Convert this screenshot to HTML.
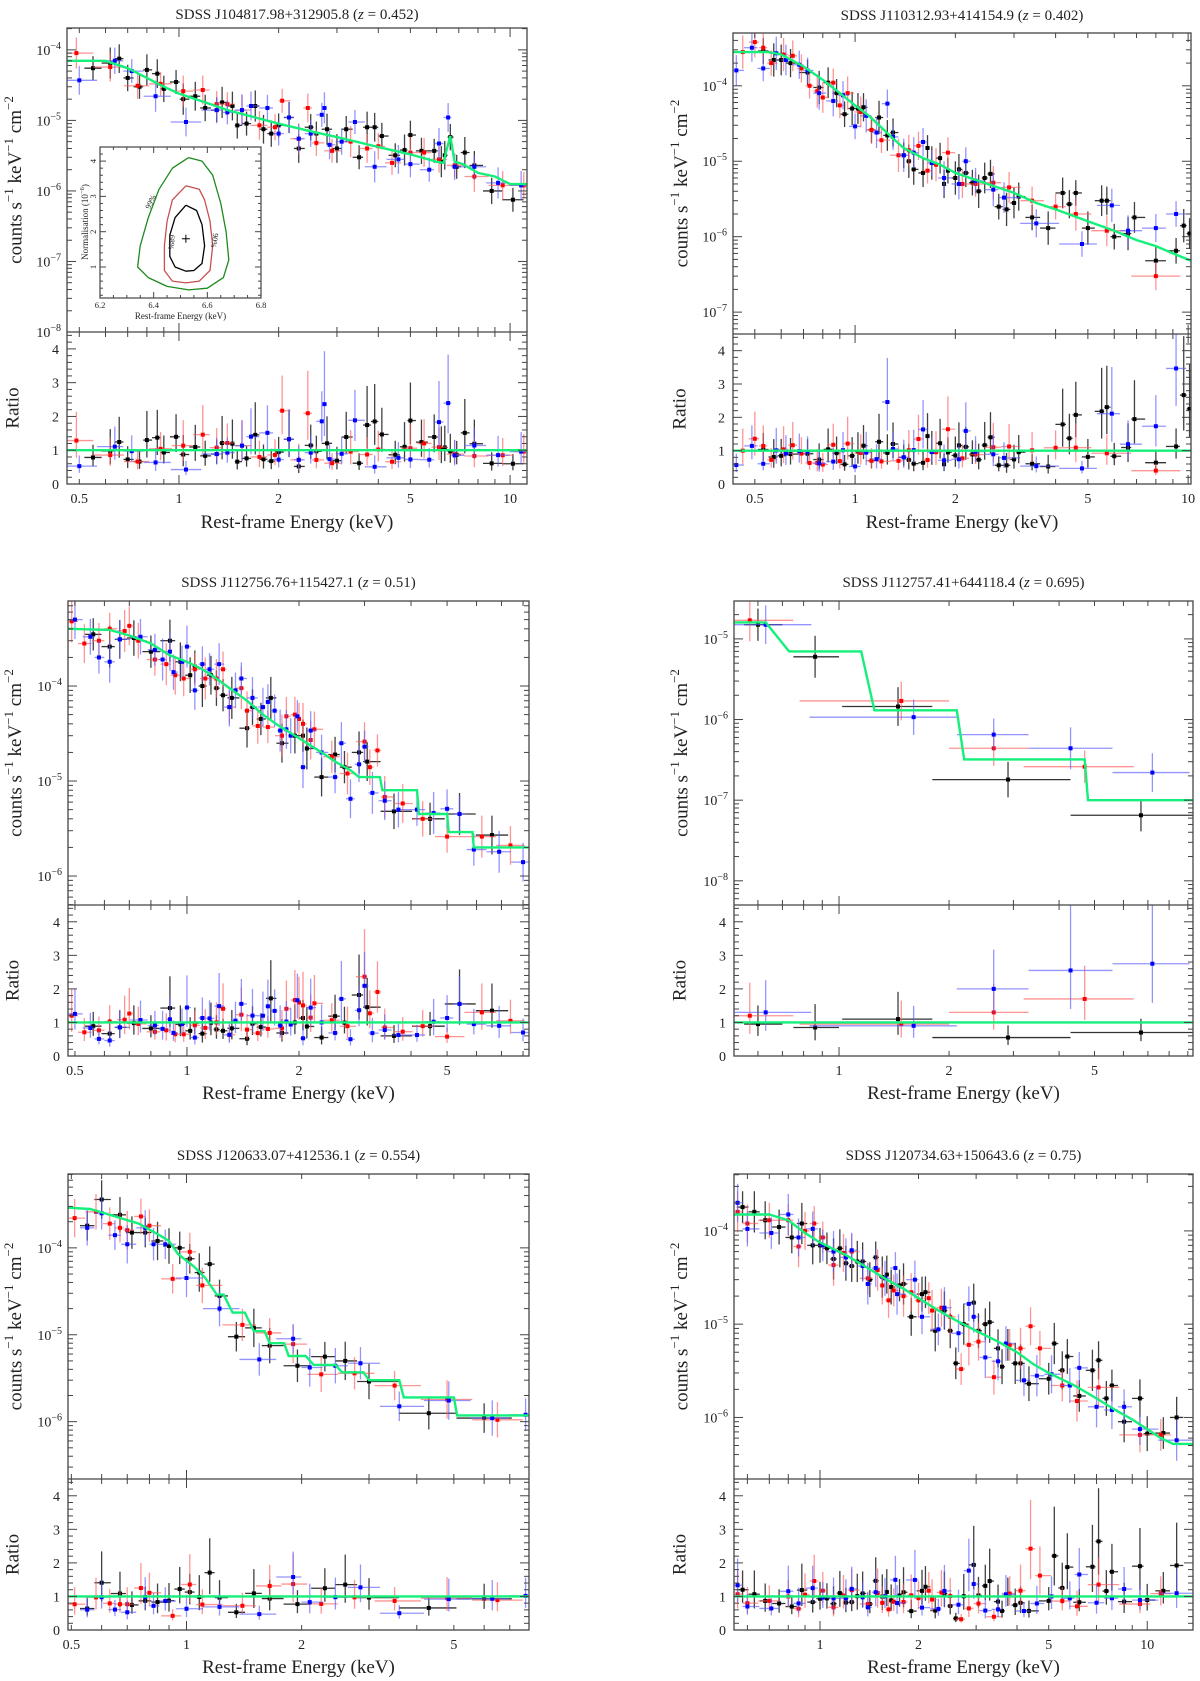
<!DOCTYPE html>
<html><head><meta charset="utf-8"><style>
html,body{margin:0;padding:0;background:#fff}
svg{display:block;font-family:"Liberation Serif",serif}
svg text{font-family:"Liberation Serif",serif;fill:#222}
</style></head><body>
<svg id="fig" width="1200" height="1681" viewBox="0 0 1200 1681" font-family="Liberation Serif, serif" xmlns="http://www.w3.org/2000/svg"></svg>
<script>
// ---------- Panel 1 data ----------
const P1_model_E=[0.459,0.6,0.7,0.8,0.9,1.0,1.2,1.4,1.7,2,2.5,3,4,5,6,6.3,6.4,6.6,6.8,7.2,8,9,10,11.25];
const P1_model_F=[7e-5,7e-5,5.5e-5,4e-5,3e-5,2.4e-5,1.8e-5,1.4e-5,1.1e-5,9e-6,7e-6,5.8e-6,4.2e-6,3.3e-6,2.6e-6,2.5e-6,3.5e-6,6e-6,2.6e-6,2.4e-6,1.8e-6,1.6e-6,1.25e-6,1.25e-6];
const P1_black_E=[0.55,0.62,0.66,0.7,0.76,0.8,0.86,0.9,0.98,1.03,1.12,1.2,1.3,1.35,1.45,1.5,1.6,1.7,1.8,1.9,2.0,2.15,2.3,2.5,2.6,2.8,3.0,3.2,3.5,3.7,3.9,4.1,4.5,4.8,5.0,5.4,5.9,6.2,6.35,6.6,6.9,7.3,7.8,8.8,10.2];
const P1_black_F=[5.5e-5,6.5e-5,7.5e-5,4e-5,3e-5,5.2e-5,4.6e-5,2.8e-5,3.5e-5,2e-5,2.2e-5,1.5e-5,1.4e-5,1.8e-5,1.6e-5,8.5e-6,9e-6,1.6e-5,7.5e-6,6.5e-6,8.5e-6,1.1e-5,4e-6,8e-6,6.5e-6,7.5e-6,4e-6,7.5e-6,3e-6,8e-6,8e-6,6e-6,3.2e-6,3.8e-6,6.2e-6,3.7e-6,3.7e-6,2.6e-6,3.2e-6,5.8e-6,2.2e-6,3.5e-6,2.3e-6,1e-6,7.5e-7];
const P1_red_E=[0.49,0.62,0.75,0.88,1.03,1.18,1.3,1.4,1.55,1.75,1.95,2.05,2.3,2.45,2.6,2.9,3.3,3.7,4.0,4.4,5.0,5.5,6.1,6.8,7.8,9.5,11];
const P1_red_F=[9e-5,5.7e-5,3.1e-5,3.3e-5,2.6e-5,2.7e-5,1.7e-5,1.7e-5,1.4e-5,8.5e-6,8e-6,1.9e-5,5.5e-6,1.5e-5,4.8e-6,3.7e-6,5e-6,4e-6,4.3e-6,2.5e-6,3.5e-6,3.5e-6,2.8e-6,2.3e-6,1.6e-6,1.2e-6,1.2e-6];
const P1_blue_E=[0.5,0.64,0.72,0.85,1.05,1.3,1.4,1.55,1.65,1.85,2.0,2.15,2.3,2.5,2.7,2.75,2.85,3.1,3.4,3.9,4.6,5.0,5.7,6.1,6.5,6.8,7.8,9.2,10.8];
const P1_blue_F=[3.7e-5,7e-5,5e-5,2.2e-5,9.5e-6,1.4e-5,1.3e-5,1.4e-5,1.6e-5,1.5e-5,6.5e-6,1.1e-5,5.5e-6,6.5e-6,1.2e-5,1.5e-5,4.5e-6,5e-6,9.5e-6,2.2e-6,2.8e-6,2.4e-6,2e-6,4.7e-6,1.1e-5,2.2e-6,2.2e-6,1.3e-6,1.2e-6];
// inset contours (energy keV, normalisation 1e-6)
const INSET_c99_E=[6.53,6.58,6.62,6.65,6.67,6.68,6.66,6.6,6.53,6.45,6.38,6.34,6.35,6.38,6.42,6.47,6.53];
const INSET_c99_N=[4.1,4.0,3.6,2.8,2.0,1.2,0.7,0.4,0.35,0.45,0.7,1.0,1.6,2.4,3.2,3.8,4.1];
const INSET_c90_E=[6.52,6.57,6.59,6.61,6.62,6.61,6.57,6.52,6.47,6.44,6.44,6.45,6.47,6.52];
const INSET_c90_N=[3.3,3.2,2.9,2.3,1.6,0.9,0.6,0.55,0.6,0.9,1.6,2.3,2.9,3.3];
const INSET_c68_E=[6.52,6.56,6.58,6.59,6.58,6.55,6.52,6.48,6.46,6.46,6.48,6.52];
const INSET_c68_N=[2.75,2.6,2.2,1.6,1.1,0.9,0.88,1.0,1.3,1.9,2.4,2.75];
const INSET_best=[6.52,1.8];
// ---------- Panel 2 data ----------
const P2_model_E=[0.43,0.55,0.6,0.7,0.8,0.9,1.0,1.1,1.2,1.3,1.4,1.6,1.8,2,2.5,3,3.5,4,5,6,7,8,9,10.2];
const P2_model_F=[2.8e-4,2.8e-4,2.6e-4,1.8e-4,1.2e-4,8e-5,5.5e-5,4e-5,2.8e-5,2e-5,1.5e-5,1.1e-5,9e-6,7e-6,5e-6,3.8e-6,2.8e-6,2.3e-6,1.6e-6,1.2e-6,9e-7,7.5e-7,6e-7,4.8e-7];
const P2_black_E=[0.53,0.57,0.6,0.64,0.72,0.78,0.83,0.88,0.93,0.98,1.02,1.06,1.12,1.18,1.25,1.3,1.4,1.45,1.5,1.6,1.65,1.7,1.8,1.85,1.9,2.0,2.05,2.15,2.25,2.35,2.45,2.55,2.7,2.85,3.0,3.1,3.4,3.8,4.2,4.4,4.6,5.0,5.5,5.7,6.0,6.6,6.9,8.0,9.2,9.7,10.1];
const P2_black_F=[2.9e-4,2.2e-4,2.2e-4,2e-4,1.5e-4,9.5e-5,1.1e-4,8e-5,4.2e-5,5e-5,5e-5,5.2e-5,2.6e-5,3.8e-5,2.2e-5,2.4e-5,1.2e-5,1e-5,7.8e-6,7e-6,1.5e-5,9.5e-6,1.1e-5,5e-6,7.5e-6,6e-6,7.8e-6,7e-6,5.2e-6,4e-6,6e-6,6.8e-6,2.5e-6,2.3e-6,2.8e-6,3.4e-6,1.8e-6,1.3e-6,3.8e-6,2.7e-6,3.8e-6,1.3e-6,3e-6,3e-6,1e-6,1.1e-6,1.8e-6,4.8e-7,6.5e-7,1.4e-6,1.1e-6];
const P2_red_E=[0.46,0.5,0.53,0.56,0.61,0.65,0.69,0.73,0.77,0.8,0.86,0.9,0.95,1.04,1.12,1.2,1.35,1.45,1.55,1.65,1.75,1.9,2.1,2.3,2.6,2.9,3.4,4.0,4.6,5.7,8.0];
const P2_red_F=[2.8e-4,3.8e-4,3.2e-4,2e-4,2.6e-4,2.5e-4,1.7e-4,1e-4,8.5e-5,7e-5,1.1e-4,5.5e-5,8e-5,4.5e-5,2.6e-5,1.9e-5,1.2e-5,1.4e-5,1.6e-5,7.5e-6,9e-6,1.3e-5,5e-6,5e-6,5.2e-6,4.5e-6,3e-6,2.5e-6,2e-6,1.2e-6,3e-7];
const P2_blue_E=[0.44,0.49,0.53,0.58,0.62,0.68,0.72,0.78,0.86,0.92,1.0,1.08,1.16,1.25,1.3,1.4,1.5,1.6,1.7,1.85,2.05,2.15,2.3,2.6,2.8,3.5,4.8,5.9,6.6,8.0,9.2];
const P2_blue_F=[1.6e-4,3.2e-4,1.7e-4,2.7e-4,2.2e-4,1.9e-4,1.6e-4,8e-5,6.3e-5,7.5e-5,2.9e-5,4e-5,2.4e-5,5.8e-5,2.1e-5,1.2e-5,1.3e-5,1.8e-5,9.5e-6,6e-6,5e-6,1e-5,5.5e-6,4.2e-6,3.3e-6,1.5e-6,8e-7,2.6e-6,1.2e-6,1.3e-6,2e-6];
// ---------- Panel 3 data ----------
const P3_model_E=[0.479,0.62,0.7,0.8,0.9,1.0,1.1,1.2,1.3,1.45,1.6,1.75,1.9,2.1,2.3,2.5,2.75,2.9,3.3,3.35,4.15,4.2,5.0,5.05,5.85,5.9,8.3];
const P3_model_F=[4e-4,3.9e-4,3.4e-4,2.8e-4,2.1e-4,1.8e-4,1.5e-4,1.2e-4,9.5e-5,7e-5,5e-5,3.9e-5,3.2e-5,2.5e-5,2e-5,1.6e-5,1.3e-5,1.1e-5,1.1e-5,8e-6,8e-6,4.5e-6,4.5e-6,2.9e-6,2.9e-6,2e-6,2e-6];
const P3_black_E=[0.56,0.62,0.66,0.72,0.8,0.9,0.96,1.02,1.05,1.1,1.16,1.2,1.25,1.32,1.45,1.5,1.58,1.68,1.8,1.95,2.05,2.1,2.3,2.5,2.65,2.9,3.05,3.6,4.5,5.4,6.6];
const P3_black_F=[3.5e-4,2.6e-4,3.1e-4,3.2e-4,2.3e-4,3e-4,1.8e-4,1.3e-4,1.6e-4,1e-4,1.3e-4,9.5e-5,8e-5,7.5e-5,3.6e-5,6e-5,4.5e-5,7.5e-5,2.5e-5,3e-5,3e-5,2.2e-5,1.1e-5,1.9e-5,1.4e-5,2e-5,1.6e-5,4.8e-6,4e-6,4.5e-6,2.7e-6];
const P3_red_E=[0.49,0.53,0.58,0.62,0.68,0.7,0.74,0.82,0.88,0.93,0.98,1.05,1.12,1.2,1.25,1.3,1.4,1.45,1.55,1.65,1.8,1.85,1.95,2.0,2.05,2.15,2.2,2.45,2.7,3.0,3.1,3.25,3.4,3.8,4.3,5.0,6.2,7.4];
const P3_red_F=[4.8e-4,2.8e-4,3e-4,4e-4,3.8e-4,4.3e-4,3e-4,1.9e-4,1.7e-4,1.3e-4,1.2e-4,1.5e-4,1.2e-4,1.2e-4,1.5e-4,6e-5,9.5e-5,5.5e-5,3.8e-5,3.7e-5,3e-5,4.8e-5,5e-5,4.5e-5,4e-5,2.7e-5,3.5e-5,1.8e-5,1.2e-5,2.6e-5,1.4e-5,2.1e-5,6.8e-6,5.8e-6,4e-6,2.6e-6,2.6e-6,2.1e-6];
const P3_blue_E=[0.5,0.55,0.58,0.62,0.66,0.75,0.82,0.86,0.9,0.92,0.97,1.0,1.05,1.1,1.15,1.22,1.3,1.35,1.4,1.5,1.6,1.65,1.72,1.78,1.85,1.9,1.98,2.05,2.15,2.3,2.5,2.6,2.75,2.9,3.0,3.15,3.4,3.7,4.15,4.6,5.0,5.4,5.9,6.9,8.0];
const P3_blue_F=[5e-4,3.3e-4,2e-4,1.8e-4,3.1e-4,3.3e-4,2.4e-4,1.9e-4,2.3e-4,1.4e-4,1.8e-4,2.6e-4,9e-5,1.7e-4,1.5e-4,1.7e-4,6e-5,9e-5,1.2e-4,7.5e-5,6e-5,6.8e-5,5.5e-5,3.4e-5,3.5e-5,3e-5,4.8e-5,1.4e-5,3.4e-5,2e-5,1.1e-5,2.5e-5,6.5e-6,1.5e-5,2.3e-5,7.5e-6,6.2e-6,5e-6,5e-6,4.6e-6,5.1e-6,4.5e-6,1.9e-6,1.8e-6,1.4e-6];
// ---------- Panel 4 data ----------
const P4_model_E=[0.516,0.63,0.73,1.15,1.25,2.1,2.2,4.7,4.8,9.3];
const P4_model_F=[1.6e-5,1.6e-5,7e-6,7e-6,1.3e-6,1.3e-6,3.2e-7,3.2e-7,1e-7,1e-7];
const P4_black_E=[0.6,0.86,1.45,2.9,6.7];
const P4_black_lo=[0.55,0.75,1.02,1.8,4.3];
const P4_black_hi=[0.7,1.0,1.8,4.3,9.3];
const P4_black_F=[1.5e-5,6e-6,1.45e-6,1.8e-7,6.5e-8];
const P4_black_R=[0.95,0.85,1.1,0.55,0.7];
const P4_red_E=[0.57,1.48,2.65,4.7];
const P4_red_lo=[0.516,0.78,2.0,3.2];
const P4_red_hi=[0.75,2.0,3.3,6.4];
const P4_red_F=[1.7e-5,1.7e-6,4.4e-7,2.6e-7];
const P4_red_R=[1.2,0.95,1.3,1.7];
const P4_blue_E=[0.63,1.6,2.65,4.3,7.2];
const P4_blue_lo=[0.516,0.83,2.1,3.3,5.6];
const P4_blue_hi=[0.84,2.1,3.3,5.6,9.1];
const P4_blue_F=[1.5e-5,1.07e-6,6.5e-7,4.4e-7,2.2e-7];
const P4_blue_R=[1.3,0.9,2.0,2.55,2.75];
// ---------- Panel 5 data ----------
const P5_model_E=[0.49,0.56,0.65,0.75,0.85,0.9,0.95,1.05,1.12,1.2,1.25,1.32,1.42,1.5,1.6,1.65,1.8,1.85,2.05,2.15,2.45,2.55,2.9,3.0,3.6,3.7,5.0,5.1,7.86];
const P5_model_F=[2.9e-4,2.8e-4,2.3e-4,1.9e-4,1.4e-4,1.2e-4,8.5e-5,6e-5,4.5e-5,2.9e-5,2.9e-5,1.8e-5,1.8e-5,1.1e-5,1.1e-5,8e-6,8e-6,5.7e-6,5.7e-6,4.5e-6,4.5e-6,3.7e-6,3.7e-6,3e-6,3e-6,1.9e-6,1.9e-6,1.18e-6,1.18e-6];
const P5_black_E=[0.55,0.6,0.67,0.72,0.78,0.84,0.9,0.96,1.02,1.08,1.15,1.22,1.35,1.5,1.65,1.95,2.3,2.6,3.0,4.3,6.0];
const P5_black_F=[1.8e-4,3.6e-4,2.4e-4,1.5e-4,1.5e-4,1.2e-4,1.05e-4,1e-4,7.5e-5,5.2e-5,6.5e-5,2.8e-5,9.5e-6,1.2e-5,7.5e-6,4.4e-6,5.6e-6,5e-6,2.9e-6,1.25e-6,1.1e-6];
const P5_red_E=[0.51,0.58,0.63,0.67,0.7,0.76,0.8,0.92,1.02,1.1,1.4,1.65,1.9,2.25,2.75,3.5,4.8,6.5];
const P5_red_F=[2.2e-4,2.6e-4,1.9e-4,1.7e-4,1.6e-4,2.3e-4,1.8e-4,4.4e-5,9e-5,3.7e-5,1.3e-5,1.05e-5,7.8e-6,3.5e-6,3.6e-6,2.6e-6,1.8e-6,1.05e-6];
const P5_blue_E=[0.55,0.6,0.65,0.7,0.78,0.82,0.88,1.0,1.22,1.55,1.9,2.1,2.45,2.85,3.6,4.85,6.3,7.7];
const P5_blue_F=[1.7e-4,2.5e-4,1.4e-4,1.1e-4,1.7e-4,1.1e-4,1.1e-4,4.5e-5,2e-5,5.2e-6,9e-6,4.2e-6,4.4e-6,4.7e-6,1.5e-6,1.75e-6,1.1e-6,1.2e-6];
// ---------- Panel 6 data ----------
const P6_model_E=[0.546,0.7,0.8,0.9,1.0,1.2,1.4,1.6,1.8,2.0,2.3,2.6,3.0,3.5,4,4.5,5,6,7,8,9,10,11,12,13.8];
const P6_model_F=[1.5e-4,1.5e-4,1.3e-4,9.5e-5,7.5e-5,5.5e-5,4e-5,3e-5,2.4e-5,1.9e-5,1.4e-5,1.1e-5,8.5e-6,6.5e-6,5e-6,3.7e-6,3e-6,2.2e-6,1.6e-6,1.2e-6,9.5e-7,7.5e-7,6e-7,5.2e-7,5.2e-7];
const P6_black_E=[0.58,0.63,0.68,0.75,0.82,0.88,0.95,1.0,1.05,1.1,1.15,1.2,1.25,1.3,1.35,1.42,1.48,1.55,1.6,1.65,1.75,1.8,1.9,2.05,2.1,2.25,2.4,2.5,2.6,2.75,2.95,3.05,3.2,3.3,3.5,3.6,3.75,3.95,4.1,4.35,5.0,5.2,5.5,5.7,6.2,6.8,7.1,7.5,7.8,8.5,9.5,10,11.2,12.3];
const P6_black_F=[1.8e-4,1.6e-4,1.3e-4,1.1e-4,8.5e-5,1.2e-4,7e-5,7e-5,6.5e-5,5e-5,6.5e-5,4.5e-5,4.2e-5,4.7e-5,4.7e-5,3e-5,5.2e-5,3.2e-5,3.4e-5,2.5e-5,2.6e-5,2.7e-5,1.2e-5,2.1e-5,2.2e-5,8.5e-6,1.4e-5,8.5e-6,3.8e-6,1e-5,1.7e-5,8.5e-6,1e-5,1.05e-5,5.5e-6,3.5e-6,6e-6,3.8e-6,3.8e-6,2.3e-6,2.6e-6,6.2e-6,3.2e-6,4.5e-6,1.7e-6,3.2e-6,4.1e-6,1.6e-6,2.2e-6,9e-7,1.6e-6,6.7e-7,6.8e-7,1e-6];
const P6_red_E=[0.56,0.6,0.7,0.8,0.86,0.9,0.96,1.02,1.1,1.18,1.25,1.4,1.5,1.55,1.62,1.68,1.8,1.9,2.0,2.15,2.2,2.35,2.5,2.7,2.85,3.05,3.4,3.8,4.1,4.4,4.7,5.5,6.1,7.1,9.5,11];
const P6_red_F=[1.6e-4,1.2e-4,1.3e-4,1.3e-4,6.8e-5,1e-4,1.2e-4,8.5e-5,4.3e-5,5.8e-5,6e-5,3.1e-5,3.8e-5,2.6e-5,1.8e-5,2.3e-5,2e-5,2.2e-5,1.8e-5,1.9e-5,1.4e-5,1.5e-5,1.2e-5,3.3e-6,6e-6,6.5e-6,2.7e-6,6e-6,5.5e-6,9.5e-6,5.5e-6,2.2e-6,1.5e-6,2.1e-6,6.5e-7,6.5e-7];
const P6_blue_E=[0.56,0.6,0.71,0.8,0.86,0.95,1.02,1.1,1.2,1.25,1.35,1.4,1.48,1.58,1.7,1.72,1.95,2.05,2.3,2.4,2.65,2.85,2.95,3.2,3.5,3.7,4.2,4.6,5.1,5.8,6.2,7.0,7.8,8.5,9.5,12.3];
const P6_blue_F=[2e-4,1.05e-4,9.5e-5,1.5e-4,8.5e-5,1.05e-4,7e-5,6e-5,5.2e-5,6.2e-5,4.2e-5,2.7e-5,4e-5,3.1e-5,4e-5,2.1e-5,3e-5,1.2e-5,8.8e-6,1.5e-5,8e-6,1.65e-5,1.2e-5,4.4e-6,4e-6,6.2e-6,2.5e-6,2.8e-6,2.9e-6,2.2e-6,3.4e-6,1.3e-6,1.2e-6,1.3e-6,7.5e-7,5.7e-7];

const XTICKS_A=[0.5,1,2,5,10];
const XTICKS_B=[0.5,1,2,5];
const XTICKS_C=[1,2,5];
const XTICKS_D=[1,2,5,10];
const RATIO_TICKS=[0,1,2,3,4];

const NS='http://www.w3.org/2000/svg';
const svg=document.getElementById('fig');
function mk(tag,attrs,parent){const e=document.createElementNS(NS,tag);for(const k in attrs)e.setAttribute(k,attrs[k]);if(tag==='text')e.setAttribute('font-family','Liberation Serif, serif');(parent||svg).appendChild(e);return e;}

const panels=[
 {id:'p1',title:['SDSS J104817.98+312905.8 (',' = 0.452)'],x0:67,x1:527,y0:28,yd:332,yb:484,xr:[0.459,11.25],yr:[-8,-3.69],yt:[-4,-5,-6,-7,-8],xt:XTICKS_A,ty:14,lx:522,ylx:17,rlx:14,
  m:[P1_model_E,P1_model_F],s:[[P1_black_E,P1_black_F,'#000','#000'],[P1_red_E,P1_red_F,'#f00','#ff5a5a'],[P1_blue_E,P1_blue_F,'#00f','#5a5aff']]},
 {id:'p2',title:['SDSS J110312.93+414154.9 (',' = 0.402)'],x0:733,x1:1191,y0:33,yd:334,yb:484,xr:[0.43,10.2],yr:[-7.29,-3.30],yt:[-4,-5,-6,-7],xt:XTICKS_A,ty:15,lx:522,ylx:683,rlx:681,
  m:[P2_model_E,P2_model_F],s:[[P2_black_E,P2_black_F,'#000','#000'],[P2_red_E,P2_red_F,'#f00','#ff5a5a'],[P2_blue_E,P2_blue_F,'#00f','#5a5aff']]},
 {id:'p3',title:['SDSS J112756.76+115427.1 (',' = 0.51)'],x0:68,x1:529,y0:601,yd:905,yb:1056,xr:[0.479,8.3],yr:[-6.305,-3.105],yt:[-4,-5,-6],xt:XTICKS_B,ty:582,lx:1093,ylx:17,rlx:14,
  m:[P3_model_E,P3_model_F],s:[[P3_black_E,P3_black_F,'#000','#000'],[P3_red_E,P3_red_F,'#f00','#ff5a5a'],[P3_blue_E,P3_blue_F,'#00f','#5a5aff']]},
 {id:'p4',title:['SDSS J112757.41+644118.4 (',' = 0.695)'],x0:734,x1:1193,y0:601,yd:905,yb:1056,xr:[0.516,9.3],yr:[-8.3,-4.53],yt:[-5,-6,-7,-8],xt:XTICKS_C,ty:582,lx:1093,ylx:683,rlx:681,
  m:[P4_model_E,P4_model_F],s:[[P4_black_E,P4_black_F,'#000','#000',P4_black_lo,P4_black_hi,P4_black_R],[P4_red_E,P4_red_F,'#f00','#ff5a5a',P4_red_lo,P4_red_hi,P4_red_R],[P4_blue_E,P4_blue_F,'#00f','#5a5aff',P4_blue_lo,P4_blue_hi,P4_blue_R]],err:0.2},
 {id:'p5',title:['SDSS J120633.07+412536.1 (',' = 0.554)'],x0:68,x1:529,y0:1174,yd:1479,yb:1630,xr:[0.49,7.86],yr:[-6.66,-3.15],yt:[-4,-5,-6],xt:XTICKS_B,ty:1155,lx:1667,ylx:17,rlx:14,
  m:[P5_model_E,P5_model_F],s:[[P5_black_E,P5_black_F,'#000','#000'],[P5_red_E,P5_red_F,'#f00','#ff5a5a'],[P5_blue_E,P5_blue_F,'#00f','#5a5aff']]},
 {id:'p6',title:['SDSS J120734.63+150643.6 (',' = 0.75)'],x0:734,x1:1193,y0:1174,yd:1479,yb:1630,xr:[0.546,13.8],yr:[-6.66,-3.39],yt:[-4,-5,-6],xt:XTICKS_D,ty:1155,lx:1667,ylx:683,rlx:681,
  m:[P6_model_E,P6_model_F],s:[[P6_black_E,P6_black_F,'#000','#000'],[P6_red_E,P6_red_F,'#f00','#ff5a5a'],[P6_blue_E,P6_blue_F,'#00f','#5a5aff']]}
];
const L=Math.log10;
function interpModel(E,F,e){
  if(e<=E[0])return F[0];if(e>=E[E.length-1])return F[F.length-1];
  for(let i=0;i<E.length-1;i++){if(e>=E[i]&&e<=E[i+1]){if(E[i+1]===E[i])return F[i];const t=(L(e)-L(E[i]))/(L(E[i+1])-L(E[i]));return Math.pow(10,L(F[i])+t*(L(F[i+1])-L(F[i])));}}
  return F[F.length-1];
}
const colNames=['black','red','blue'];
panels.forEach((p,pi)=>{
  const g=mk('g',{});
  
  
  const X=e=>p.x0+(L(e)-L(p.xr[0]))/(L(p.xr[1])-L(p.xr[0]))*(p.x1-p.x0);
  const Y=v=>p.yd-(L(v)-p.yr[0])/(p.yr[1]-p.yr[0])*(p.yd-p.y0);
  const YR=r=>p.yb-Math.min(r,4.55)/4.5*(p.yb-p.yd);
  const clipT='clipT'+pi,clipR='clipR'+pi;
  const defs=mk('defs',{},g);
  const c1=mk('clipPath',{id:clipT},defs);mk('rect',{x:p.x0,y:p.y0,width:p.x1-p.x0,height:p.yd-p.y0},c1);
  const c2=mk('clipPath',{id:clipR},defs);mk('rect',{x:p.x0,y:p.yd,width:p.x1-p.x0,height:p.yb-p.yd},c2);
  const t=mk('text',{x:(p.x0+p.x1)/2,y:p.ty+5,'text-anchor':'middle','font-size':15},g);
  
  
  t.appendChild(document.createTextNode(p.title[0]));
  const zi=mk('tspan',{'font-style':'italic'},t);zi.textContent='z';
  t.appendChild(document.createTextNode(p.title[1]));
  const gT=mk('g',{'clip-path':'url(#'+clipT+')'},g);
  const gR=mk('g',{'clip-path':'url(#'+clipR+')'},g);
  const d=p.err||0.17;
  p.s.forEach((s,si)=>{
    const [E,F,col,ecol,lo,hi,R]=s;
    const sg=mk('g',{},gT);
    
    
    const rg=mk('g',{},gR);
    
    
    E.forEach((e,i)=>{
      const elo=lo?lo[i]:(i>0?Math.sqrt(E[i-1]*e):e*e/Math.sqrt(e*E[i+1]));
      const ehi=hi?hi[i]:(i<E.length-1?Math.sqrt(E[i+1]*e):e*e/Math.sqrt(e*E[i-1]));
      const f=F[i];const dd=d*(1+0.3*((i*7+si*3)%4)/3);
      const x=X(e),y=Y(f);
      mk('line',{x1:X(elo),x2:X(ehi),y1:y,y2:y,stroke:ecol,'stroke-width':1.3,'stroke-opacity':si?0.65:0.8},sg);
      mk('line',{x1:x,x2:x,y1:Y(f*Math.pow(10,dd)),y2:Y(f/Math.pow(10,dd)),stroke:ecol,'stroke-width':1.3,'stroke-opacity':si?0.65:0.75},sg);
      const pt=mk('rect',{x:x-2,y:y-2,width:4,height:4,fill:col},sg);
      
      
      const r=R?R[i]:f/interpModel(p.m[0],p.m[1],e);
      const yr=YR(r);
      mk('line',{x1:X(elo),x2:X(ehi),y1:yr,y2:yr,stroke:ecol,'stroke-width':1.3,'stroke-opacity':si?0.65:0.8},rg);
      mk('line',{x1:x,x2:x,y1:YR(r*Math.pow(10,dd)),y2:YR(r/Math.pow(10,dd)),stroke:ecol,'stroke-width':1.3,'stroke-opacity':si?0.65:0.75},rg);
      const rp=mk('rect',{x:x-2,y:yr-2,width:4,height:4,fill:col},rg);
      
      
    });
  });
  const pts=p.m[0].map((e,i)=>X(e).toFixed(1)+','+Y(p.m[1][i]).toFixed(1)).join(' ');
  const ml=mk('polyline',{points:pts,fill:'none',stroke:'#14f07a','stroke-width':2.4},gT);
  
  
  const rl=mk('line',{x1:p.x0,x2:p.x1,y1:YR(1),y2:YR(1),stroke:'#14f07a','stroke-width':2.4},gR);
  
  
  const fr=mk('rect',{x:p.x0,y:p.y0,width:p.x1-p.x0,height:p.yb-p.y0,fill:'none',stroke:'#444','stroke-width':1.3},g);
  
  
  mk('line',{x1:p.x0,x2:p.x1,y1:p.yd,y2:p.yd,stroke:'#444','stroke-width':1.3},g);
  const ax=mk('g',{stroke:'#444','stroke-width':1},g);
  
  
  for(let dec=-1;dec<=1;dec++){for(let m=1;m<10;m++){const e=m*Math.pow(10,dec);if(e<p.xr[0]||e>p.xr[1])continue;const x=X(e);const big=(m===1);const len=big?9:5;
    [p.y0,p.yd,p.yb].forEach((yy,k)=>{
      if(k===0)mk('line',{x1:x,x2:x,y1:yy,y2:yy+len},ax);
      else if(k===1){mk('line',{x1:x,x2:x,y1:yy-len,y2:yy+len},ax);}
      else mk('line',{x1:x,x2:x,y1:yy,y2:yy-len},ax);
    });}}
  p.xt.forEach(v=>{const tl=mk('text',{x:X(v),y:p.yb+19,'text-anchor':'middle','font-size':14},g);tl.textContent=String(v);
    
    });
  const ay=mk('g',{stroke:'#444','stroke-width':1},g);
  
  
  for(let dec=-9;dec<=-3;dec++){for(let m=1;m<10;m++){const lv=dec+L(m);if(lv<p.yr[0]||lv>p.yr[1])continue;const y=Y(Math.pow(10,lv));const len=m===1?9:5;
    mk('line',{x1:p.x0,x2:p.x0+len,y1:y,y2:y},ay);mk('line',{x1:p.x1,x2:p.x1-len,y1:y,y2:y},ay);}}
  p.yt.forEach(ex=>{const y=Y(Math.pow(10,ex));const tl=mk('text',{x:p.x0-6,y:y+5,'text-anchor':'end','font-size':14},g);
    
    
    tl.appendChild(document.createTextNode('10'));const sp=mk('tspan',{dy:-6,'font-size':10},tl);sp.textContent='\u2212'+(-ex);});
  for(let r=0;r<=4.5001;r+=0.2){const y=YR(r);const major=Math.abs(r-Math.round(r))<1e-6;const len=major?9:5;
    mk('line',{x1:p.x0,x2:p.x0+len,y1:y,y2:y},ay);mk('line',{x1:p.x1,x2:p.x1-len,y1:y,y2:y},ay);}
  RATIO_TICKS.forEach(r=>{const tl=mk('text',{x:p.x0-8,y:YR(r)+5,'text-anchor':'end','font-size':14},g);tl.textContent=String(r);
    
    });
  const xl=mk('text',{x:(p.x0+p.x1)/2,y:p.lx+6,'text-anchor':'middle','font-size':19},g);xl.textContent='Rest-frame Energy (keV)';
  
  
  const cy=(p.y0+p.yd)/2;
  const yl=mk('text',{x:p.ylx,y:cy,'text-anchor':'middle','font-size':19,transform:'rotate(-90 '+p.ylx+' '+cy+')','dominant-baseline':'middle'},g);
  
  
  yl.appendChild(document.createTextNode('counts s'));
  let sp=mk('tspan',{dy:-7,'font-size':13},yl);sp.textContent='\u22121';
  sp=mk('tspan',{dy:7},yl);sp.textContent=' keV';
  sp=mk('tspan',{dy:-7,'font-size':13},yl);sp.textContent='\u22121';
  sp=mk('tspan',{dy:7},yl);sp.textContent=' cm';
  sp=mk('tspan',{dy:-7,'font-size':13},yl);sp.textContent='\u22122';
  const cr=(p.yd+p.yb)/2;
  const rlab=mk('text',{x:p.rlx,y:cr,'text-anchor':'middle','font-size':19,transform:'rotate(-90 '+p.rlx+' '+cr+')','dominant-baseline':'middle'},g);
  rlab.textContent='Ratio';
  
  
});

// ---------- Inset (panel 1) ----------
(function(){
  const ix0=100,ix1=261,iy0=147,iy1=298;
  const IX=e=>ix0+(e-6.2)/0.6*(ix1-ix0);
  const IY=n=>267-(n-1)*35.3;
  const g=mk('g',{});
  
  
  mk('rect',{x:ix0,y:iy0,width:ix1-ix0,height:iy1-iy0,fill:'#fff',stroke:'#444','stroke-width':1.2},g);
  for(let e=6.2;e<=6.8001;e+=0.05){const x=IX(e);const len=Math.abs((e*10)-Math.round(e*10))<0.01&&Math.round(e*10)%2===0?6:3;
    mk('line',{x1:x,x2:x,y1:iy1,y2:iy1-len,stroke:'#444'},g);mk('line',{x1:x,x2:x,y1:iy0,y2:iy0+len,stroke:'#444'},g);}
  for(let n=0.2;n<=4.4;n+=0.2){const y=IY(n);const len=Math.abs(n-Math.round(n))<0.01?6:3;
    mk('line',{x1:ix0,x2:ix0+len,y1:y,y2:y,stroke:'#444'},g);mk('line',{x1:ix1,x2:ix1-len,y1:y,y2:y,stroke:'#444'},g);}
  [6.2,6.4,6.6,6.8].forEach(v=>{const t=mk('text',{x:IX(v),y:iy1+10,'text-anchor':'middle','font-size':8.5},g);t.textContent=v.toFixed(1);
    
    });
  [1,2,3,4].forEach(v=>{const t=mk('text',{x:ix0-7,y:IY(v)+3,'text-anchor':'middle','font-size':8.5,transform:'rotate(-90 '+(ix0-7)+' '+IY(v)+')'},g);t.textContent=String(v);
    
    });
  const xt=mk('text',{x:(ix0+ix1)/2,y:iy1+21,'text-anchor':'middle','font-size':9},g);xt.textContent='Rest-frame Energy (keV)';
  
  
  const yt=mk('text',{x:88,y:222,'text-anchor':'middle','font-size':9,transform:'rotate(-90 88 222)'},g);
  
  
  yt.appendChild(document.createTextNode('Normalisation (10'));const s=mk('tspan',{dy:-4,'font-size':6.5},yt);s.textContent='\u22126';const s2=mk('tspan',{dy:4},yt);s2.textContent=')';
  [[INSET_c99_E,INSET_c99_N,'#1e8a1e','contour-99'],[INSET_c90_E,INSET_c90_N,'#c85050','contour-90'],[INSET_c68_E,INSET_c68_N,'#000','contour-68']].forEach(c=>{
    const pl=mk('polyline',{points:c[0].map((e,i)=>IX(e).toFixed(1)+','+IY(c[1][i]).toFixed(1)).join(' '),fill:'none',stroke:c[2],'stroke-width':1.3,'stroke-linejoin':'round'},g);
    
    
  });
  const bx=IX(INSET_best[0]),by=IY(INSET_best[1]);
  mk('line',{x1:bx-4,x2:bx+4,y1:by,y2:by,stroke:'#000'},g);mk('line',{x1:bx,x2:bx,y1:by-4,y2:by+4,stroke:'#000'},g);
  const l1=mk('text',{x:153,y:203,'font-size':8,'text-anchor':'middle',transform:'rotate(-65 153 203)'},g);l1.textContent='99%';
  
  
  const l2=mk('text',{x:169,y:242,'font-size':8,'text-anchor':'middle',transform:'rotate(95 169 242)'},g);l2.textContent='68%';
  
  
  const l3=mk('text',{x:212,y:240,'font-size':8,'text-anchor':'middle',transform:'rotate(100 212 240)'},g);l3.textContent='90%';
  
  
})();
</script>
</body></html>
